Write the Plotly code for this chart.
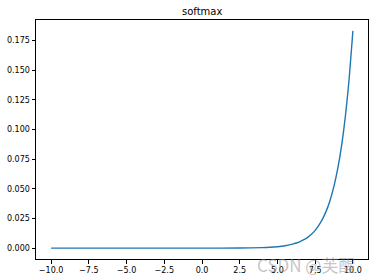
import plotly.graph_objects as go

x_vals = [-10, -5, 0, 2.5, 4, 4.5, 5, 5.5, 6, 6.25, 6.5, 6.75, 7, 7.25, 7.5,
          7.75, 8, 8.25, 8.5, 8.75, 9, 9.25, 9.5, 9.75, 10]
y_vals = [0.0, 0.0, 0.00001, 0.0001, 0.00045, 0.0007, 0.0012, 0.002, 0.0034,
          0.0043, 0.0055, 0.0071, 0.0091, 0.0117, 0.0150, 0.0193, 0.0248,
          0.0318, 0.0408, 0.0524, 0.0673, 0.0864, 0.111, 0.1425, 0.183]
title_text = "softmax"
watermark = "CSDN @芙醒"

fig = go.Figure()
fig.add_trace(go.Scatter(x=x_vals, y=y_vals, mode="lines",
                         line=dict(color="#1f77b4", width=1.4, shape="spline", smoothing=0.6),
                         hoverinfo="skip"))

axis_common = dict(showline=True, mirror=True, linecolor="black", linewidth=1,
                   ticks="outside", ticklen=3.5, tickwidth=1, tickcolor="black",
                   showgrid=False, zeroline=False,
                   tickfont=dict(family="DejaVu Sans", size=8, color="black"))

fig.update_layout(
    width=374, height=280,
    margin=dict(l=36, r=6, t=20, b=21),
    paper_bgcolor="white", plot_bgcolor="white",
    showlegend=False,
    xaxis=dict(range=[-11, 11], tick0=-10, dtick=2.5, tickformat=".1f", **axis_common),
    yaxis=dict(range=[-0.00915, 0.19215], tick0=0, dtick=0.025, tickformat=".3f", **axis_common),
)
fig.add_annotation(text=title_text, xref="paper", yref="paper", x=0.5, y=1,
                   yanchor="bottom", yshift=1, showarrow=False,
                   font=dict(family="DejaVu Sans", size=10, color="black"))
fig.add_annotation(text=watermark, xref="paper", yref="paper", x=0.968, y=0,
                   xanchor="right", yanchor="top", yshift=9, showarrow=False,
                   font=dict(family="Noto Sans CJK SC", size=17, color="rgba(140,140,140,0.5)"))
fig.write_html("out.html")
